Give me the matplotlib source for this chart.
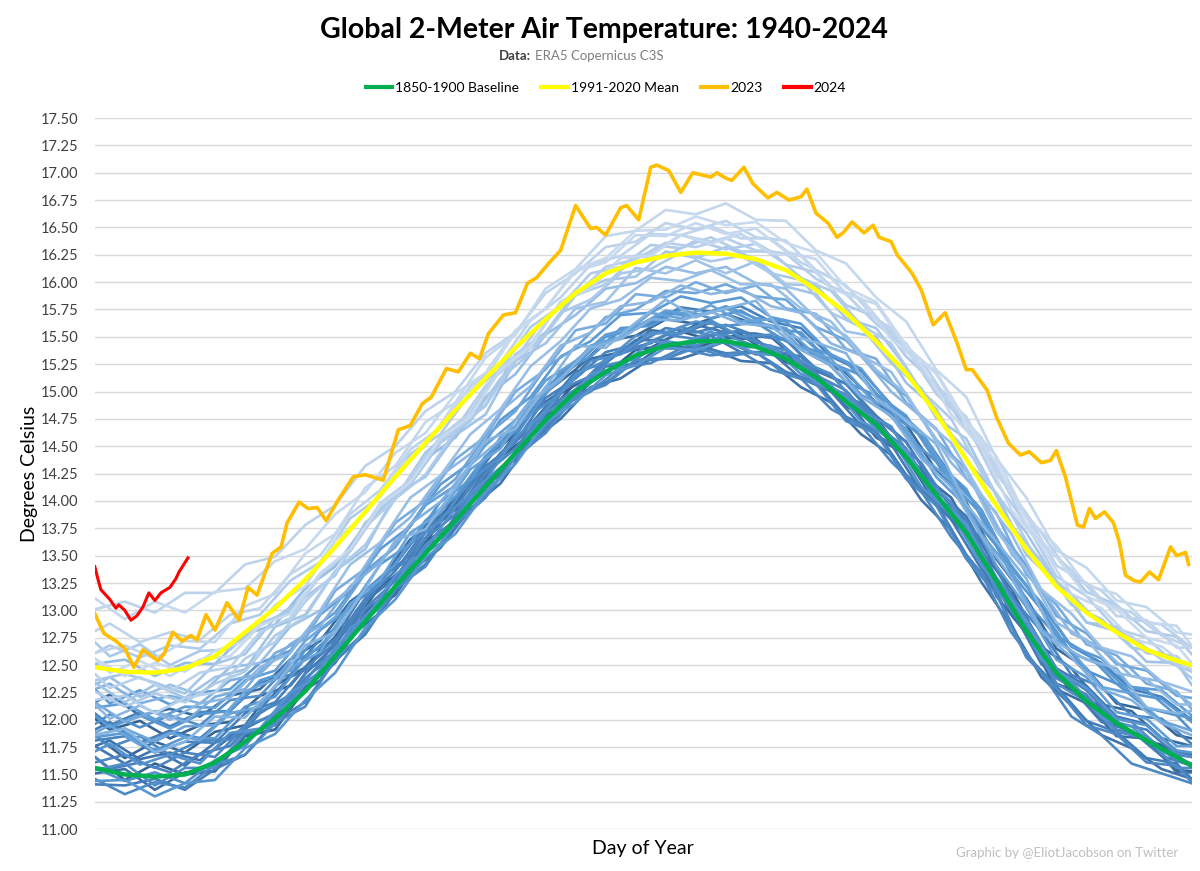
import numpy as np
import matplotlib
matplotlib.use("Agg")
import matplotlib.pyplot as plt
from matplotlib.colors import LinearSegmentedColormap
from matplotlib.lines import Line2D

plt.rcParams['font.family'] = ['Lato', 'DejaVu Sans']

# day-of-year grids (two offset grids, values read every 10 days)
days = [1, 11, 21, 31, 41, 51, 61, 71, 81, 91, 101, 111, 121, 131, 141, 151, 161, 171, 181,
        191, 201, 211, 221, 231, 241, 251, 261, 271, 281, 291, 301, 311, 321, 331, 341, 351,
        361, 366]
days_b = [1, 6, 16, 26, 36, 46, 56, 66, 76, 86, 96, 106, 116, 126, 136, 146, 156, 166, 176,
          186, 196, 206, 216, 226, 236, 246, 256, 266, 276, 286, 296, 306, 316, 326, 336, 346,
          356, 366]

baseline_1850_1900 = [11.56, 11.50, 11.48, 11.50, 11.61, 11.80, 12.01, 12.26, 12.58, 12.90,
                      13.22, 13.52, 13.82, 14.13, 14.44, 14.74, 15.00, 15.18, 15.33, 15.42,
                      15.46, 15.46, 15.41, 15.30, 15.13, 14.91, 14.70, 14.40, 14.06, 13.71,
                      13.27, 12.81, 12.43, 12.17, 11.97, 11.81, 11.66, 11.58]

mean_1991_2020 = [12.48, 12.44, 12.43, 12.47, 12.58, 12.80, 13.02, 13.28, 13.58, 13.90,
                  14.22, 14.53, 14.83, 15.12, 15.40, 15.66, 15.90, 16.08, 16.18, 16.24,
                  16.27, 16.26, 16.21, 16.11, 15.93, 15.72, 15.46, 15.17, 14.80, 14.38,
                  13.96, 13.56, 13.22, 12.98, 12.80, 12.64, 12.54, 12.50]

# historical years on grid "days"
years_a = {
    1940: [11.66, 11.45, 11.60, 11.50, 11.53, 11.85, 11.91, 12.28, 12.53, 12.98, 13.20, 13.62, 13.82,
           14.18, 14.38, 14.78, 15.08, 15.16, 15.38, 15.42, 15.40, 15.49, 15.48, 15.27, 15.15, 14.86,
           14.76, 14.40, 13.98, 13.75, 13.23, 12.83, 12.33, 12.22, 11.95, 11.81, 11.54, 11.53],
    1944: [11.86, 11.65, 11.80, 11.70, 11.89, 11.95, 12.31, 12.48, 12.76, 13.18, 13.42, 13.78, 13.97,
           14.37, 14.62, 14.99, 15.20, 15.46, 15.51, 15.66, 15.62, 15.71, 15.61, 15.57, 15.31, 15.17,
           14.90, 14.70, 14.28, 13.99, 13.47, 13.11, 12.65, 12.47, 12.15, 12.09, 11.86, 11.83],
    1948: [11.51, 11.55, 11.36, 11.52, 11.53, 11.86, 11.91, 12.30, 12.52, 12.95, 13.14, 13.54, 13.77,
           14.19, 14.40, 14.77, 14.94, 15.23, 15.25, 15.44, 15.36, 15.46, 15.34, 15.35, 15.07, 14.94,
           14.58, 14.42, 13.96, 13.75, 13.13, 12.79, 12.28, 12.15, 11.85, 11.83, 11.52, 11.52],
    1952: [11.76, 11.60, 11.73, 11.58, 11.79, 11.92, 12.06, 12.42, 12.68, 13.08, 13.30, 13.66, 13.88,
           14.28, 14.54, 14.86, 15.18, 15.26, 15.47, 15.47, 15.61, 15.54, 15.53, 15.48, 15.19, 15.07,
           14.78, 14.54, 14.11, 13.86, 13.37, 12.93, 12.47, 12.31, 12.03, 11.96, 11.71, 11.68],
    1955: [11.41, 11.40, 11.46, 11.36, 11.55, 11.68, 11.99, 12.16, 12.54, 12.78, 13.19, 13.42, 13.77,
           14.04, 14.42, 14.66, 14.97, 15.08, 15.28, 15.30, 15.42, 15.35, 15.36, 15.18, 15.09, 14.77,
           14.64, 14.24, 13.98, 13.51, 13.17, 12.59, 12.31, 11.99, 11.89, 11.65, 11.60, 11.46],
    1958: [11.81, 11.85, 11.70, 11.80, 11.79, 12.06, 12.16, 12.48, 12.70, 13.10, 13.36, 13.74, 13.94,
           14.31, 14.54, 14.94, 15.12, 15.36, 15.43, 15.58, 15.54, 15.61, 15.51, 15.47, 15.21, 15.07,
           14.76, 14.54, 14.10, 13.83, 13.30, 12.93, 12.45, 12.27, 11.97, 11.91, 11.68, 11.66],
    1962: [11.61, 11.68, 11.56, 11.70, 11.66, 11.94, 12.05, 12.38, 12.60, 13.02, 13.27, 13.66, 13.88,
           14.25, 14.48, 14.84, 15.02, 15.30, 15.39, 15.52, 15.48, 15.56, 15.45, 15.38, 15.15, 15.01,
           14.70, 14.48, 14.04, 13.77, 13.23, 12.87, 12.38, 12.23, 11.91, 11.85, 11.62, 11.60],
    1965: [11.46, 11.32, 11.43, 11.38, 11.59, 11.68, 11.97, 12.12, 12.56, 12.80, 13.20, 13.40, 13.79,
           14.03, 14.40, 14.62, 14.96, 15.06, 15.29, 15.30, 15.40, 15.32, 15.36, 15.16, 15.07, 14.73,
           14.62, 14.20, 13.96, 13.47, 13.15, 12.57, 12.29, 11.95, 11.87, 11.61, 11.58, 11.43],
    1968: [11.54, 11.60, 11.40, 11.56, 11.56, 11.88, 11.95, 12.34, 12.54, 12.96, 13.20, 13.60, 13.82,
           14.19, 14.42, 14.80, 15.00, 15.24, 15.30, 15.46, 15.42, 15.52, 15.41, 15.38, 15.11, 14.97,
           14.66, 14.44, 14.00, 13.73, 13.19, 12.81, 12.33, 12.17, 11.89, 11.83, 11.56, 11.56],
    1972: [11.56, 11.44, 11.52, 11.42, 11.63, 11.76, 12.07, 12.26, 12.66, 12.92, 13.32, 13.56, 13.94,
           14.19, 14.58, 14.82, 15.16, 15.28, 15.51, 15.54, 15.64, 15.60, 15.63, 15.46, 15.37, 15.09,
           14.96, 14.60, 14.36, 13.93, 13.59, 13.07, 12.77, 12.45, 12.33, 12.11, 12.04, 11.90],
    1976: [11.44, 11.45, 11.30, 11.42, 11.45, 11.74, 11.87, 12.18, 12.43, 12.84, 13.10, 13.48, 13.70,
           14.08, 14.34, 14.72, 14.90, 15.15, 15.24, 15.40, 15.38, 15.46, 15.35, 15.32, 15.08, 14.95,
           14.66, 14.46, 14.04, 13.79, 13.27, 12.91, 12.45, 12.29, 12.01, 11.95, 11.72, 11.70],
    1979: [11.84, 11.88, 11.72, 11.84, 11.83, 12.12, 12.21, 12.56, 12.80, 13.18, 13.42, 13.82, 14.04,
           14.41, 14.64, 15.04, 15.24, 15.50, 15.57, 15.72, 15.68, 15.78, 15.67, 15.64, 15.39, 15.27,
           14.98, 14.78, 14.36, 14.11, 13.59, 13.23, 12.77, 12.61, 12.33, 12.27, 12.04, 12.02],
    1983: [12.11, 12.15, 12.00, 12.12, 12.11, 12.36, 12.45, 12.78, 12.98, 13.36, 13.58, 13.96, 14.14,
           14.51, 14.74, 15.10, 15.28, 15.52, 15.59, 15.74, 15.70, 15.76, 15.63, 15.58, 15.33, 15.19,
           14.88, 14.66, 14.22, 13.95, 13.41, 13.03, 12.55, 12.39, 12.07, 12.01, 11.76, 11.76],
    1987: [11.86, 11.92, 11.80, 11.94, 11.95, 12.26, 12.37, 12.72, 12.94, 13.34, 13.58, 13.98, 14.20,
           14.59, 14.82, 15.22, 15.40, 15.68, 15.75, 15.92, 15.90, 15.98, 15.87, 15.84, 15.59, 15.47,
           15.18, 14.96, 14.56, 14.29, 13.77, 13.41, 12.95, 12.79, 12.51, 12.45, 12.22, 12.20],
    1990: [12.16, 11.98, 12.08, 11.98, 12.21, 12.28, 12.61, 12.74, 13.18, 13.38, 13.80, 14.00, 14.38,
           14.59, 15.00, 15.20, 15.56, 15.62, 15.89, 15.86, 16.00, 15.90, 15.97, 15.76, 15.71, 15.39,
           15.30, 14.90, 14.66, 14.21, 13.89, 13.33, 13.05, 12.69, 12.59, 12.33, 12.26, 12.10],
    1994: [11.86, 11.92, 11.70, 11.80, 12.03, 12.02, 12.31, 12.68, 12.80, 13.20, 13.64, 13.74, 14.12,
           14.55, 14.66, 15.04, 15.42, 15.40, 15.63, 15.84, 15.68, 15.76, 15.83, 15.52, 15.45, 15.35,
           14.94, 14.74, 14.52, 13.97, 13.63, 13.29, 12.71, 12.55, 12.47, 12.11, 12.06, 12.08],
    1998: [12.51, 12.55, 12.40, 12.52, 12.51, 12.78, 12.87, 13.20, 13.40, 13.78, 14.02, 14.38, 14.58,
           14.95, 15.16, 15.52, 15.70, 15.94, 15.99, 16.14, 16.08, 16.14, 15.99, 15.94, 15.67, 15.51,
           15.20, 14.98, 14.54, 14.27, 13.73, 13.37, 12.89, 12.73, 12.43, 12.37, 12.14, 12.14],
    2002: [12.34, 12.16, 12.32, 12.20, 12.39, 12.46, 12.85, 12.96, 13.36, 13.56, 14.06, 14.22, 14.60,
           14.79, 15.28, 15.44, 15.76, 15.82, 16.13, 16.08, 16.20, 16.08, 16.19, 15.96, 15.89, 15.55,
           15.50, 15.08, 14.84, 14.37, 14.07, 13.51, 13.25, 12.89, 12.81, 12.53, 12.52, 12.32],
    2005: [12.36, 12.42, 12.34, 12.24, 12.51, 12.60, 12.93, 13.12, 13.32, 13.80, 14.02, 14.44, 14.68,
           14.87, 15.34, 15.54, 15.90, 16.02, 16.05, 16.28, 16.22, 16.32, 16.21, 15.98, 15.97, 15.67,
           15.58, 15.22, 14.76, 14.57, 14.05, 13.71, 13.27, 12.89, 12.85, 12.61, 12.58, 12.44],
    2009: [12.26, 12.12, 12.24, 12.16, 12.33, 12.44, 12.77, 12.94, 13.36, 13.60, 14.02, 14.24, 14.64,
           14.87, 15.28, 15.52, 15.88, 15.98, 16.23, 16.24, 16.38, 16.30, 16.35, 16.16, 16.09, 15.79,
           15.68, 15.32, 15.06, 14.65, 14.31, 13.77, 13.49, 13.17, 13.05, 12.81, 12.76, 12.60],
    2012: [12.18, 12.22, 12.06, 12.20, 12.25, 12.56, 12.71, 13.08, 13.34, 13.76, 14.02, 14.42, 14.66,
           15.05, 15.30, 15.68, 15.88, 16.14, 16.21, 16.36, 16.32, 16.40, 16.29, 16.26, 16.03, 15.89,
           15.62, 15.40, 14.98, 14.71, 14.17, 13.79, 13.31, 13.13, 12.83, 12.75, 12.50, 12.50],
    2016: [13.01, 13.08, 12.98, 13.16, 13.16, 13.42, 13.49, 13.78, 13.96, 14.32, 14.50, 14.82, 15.00,
           15.35, 15.54, 15.90, 16.08, 16.32, 16.37, 16.54, 16.48, 16.56, 16.41, 16.38, 16.11, 15.97,
           15.66, 15.44, 15.02, 14.77, 14.25, 13.89, 13.41, 13.25, 12.95, 12.91, 12.66, 12.66],
    2019: [12.61, 12.68, 12.56, 12.72, 12.71, 13.04, 13.15, 13.52, 13.70, 14.12, 14.32, 14.72, 14.90,
           15.31, 15.52, 15.94, 16.12, 16.42, 16.47, 16.66, 16.62, 16.72, 16.57, 16.56, 16.29, 16.17,
           15.86, 15.64, 15.20, 14.95, 14.39, 14.03, 13.55, 13.39, 13.09, 13.03, 12.80, 12.78],
    2020: [13.11, 12.92, 13.08, 12.98, 13.17, 13.20, 13.45, 13.56, 13.88, 14.08, 14.44, 14.62, 14.98,
           15.17, 15.56, 15.76, 16.10, 16.18, 16.43, 16.42, 16.54, 16.44, 16.49, 16.28, 16.21, 15.89,
           15.80, 15.40, 15.18, 14.73, 14.41, 13.85, 13.59, 13.23, 13.15, 12.89, 12.86, 12.68],
    2022: [12.56, 12.40, 12.52, 12.44, 12.63, 12.72, 13.05, 13.22, 13.64, 13.88, 14.28, 14.50, 14.90,
           15.13, 15.54, 15.76, 16.12, 16.22, 16.47, 16.48, 16.60, 16.52, 16.55, 16.36, 16.27, 15.95,
           15.82, 15.42, 15.16, 14.71, 14.35, 13.79, 13.49, 13.13, 13.01, 12.75, 12.68, 12.52],
}

# historical years on grid "days_b"
years_b = {
    1942: [12.01, 11.91, 11.99, 11.83, 11.95, 11.98, 12.22, 12.31, 12.64, 12.84, 13.22, 13.42, 13.81,
           14.03, 14.40, 14.61, 14.98, 15.14, 15.38, 15.40, 15.55, 15.47, 15.52, 15.34, 15.32, 15.02,
           14.89, 14.52, 14.29, 13.83, 13.54, 12.96, 12.63, 12.25, 12.12, 11.86, 11.77, 11.58],
    1946: [12.16, 12.23, 12.04, 12.10, 12.03, 12.22, 12.28, 12.55, 12.72, 13.08, 13.28, 13.65, 13.85,
           14.21, 14.42, 14.81, 15.00, 15.30, 15.36, 15.56, 15.53, 15.63, 15.50, 15.50, 15.26, 15.16,
           14.83, 14.68, 14.25, 14.03, 13.54, 13.20, 12.67, 12.47, 12.14, 12.08, 11.83, 11.76],
    1950: [11.76, 11.81, 11.64, 11.70, 11.63, 11.84, 11.90, 12.19, 12.36, 12.76, 12.98, 13.35, 13.57,
           13.93, 14.16, 14.54, 14.75, 15.04, 15.12, 15.30, 15.30, 15.39, 15.28, 15.26, 15.04, 14.90,
           14.61, 14.42, 14.01, 13.73, 13.26, 12.86, 12.39, 12.13, 11.86, 11.74, 11.55, 11.46],
    1954: [11.91, 11.98, 11.79, 11.90, 11.83, 12.06, 12.10, 12.39, 12.52, 12.92, 13.10, 13.49, 13.67,
           14.05, 14.24, 14.65, 14.82, 15.14, 15.18, 15.40, 15.39, 15.51, 15.36, 15.36, 15.12, 15.00,
           14.69, 14.52, 14.09, 13.83, 13.38, 13.02, 12.51, 12.29, 11.98, 11.90, 11.67, 11.58],
    1957: [11.66, 11.55, 11.61, 11.52, 11.69, 11.76, 12.06, 12.23, 12.62, 12.86, 13.28, 13.51, 13.91,
           14.15, 14.54, 14.79, 15.16, 15.32, 15.56, 15.62, 15.77, 15.73, 15.78, 15.64, 15.58, 15.32,
           15.19, 14.88, 14.63, 14.23, 13.92, 13.40, 13.05, 12.67, 12.52, 12.28, 12.21, 12.00],
    1960: [12.06, 11.95, 12.07, 11.94, 12.07, 12.08, 12.34, 12.41, 12.74, 12.92, 13.30, 13.47, 13.85,
           14.05, 14.44, 14.65, 15.02, 15.14, 15.38, 15.44, 15.59, 15.51, 15.56, 15.38, 15.32, 15.02,
           14.89, 14.58, 14.35, 13.93, 13.66, 13.12, 12.81, 12.41, 12.30, 12.04, 12.01, 11.78],
    1964: [11.86, 11.75, 11.85, 11.68, 11.81, 11.82, 12.08, 12.19, 12.52, 12.74, 13.10, 13.33, 13.69,
           13.91, 14.28, 14.51, 14.86, 15.00, 15.22, 15.26, 15.39, 15.33, 15.36, 15.20, 15.12, 14.84,
           14.69, 14.36, 14.09, 13.67, 13.34, 12.80, 12.43, 12.03, 11.86, 11.60, 11.51, 11.42],
    1970: [11.96, 12.05, 11.93, 12.04, 11.95, 12.18, 12.22, 12.51, 12.66, 13.04, 13.24, 13.61, 13.81,
           14.19, 14.40, 14.79, 14.98, 15.28, 15.34, 15.54, 15.53, 15.65, 15.50, 15.52, 15.28, 15.16,
           14.83, 14.68, 14.23, 13.99, 13.48, 13.12, 12.57, 12.35, 12.04, 11.98, 11.73, 11.66],
    1974: [11.71, 11.78, 11.59, 11.68, 11.60, 11.88, 11.92, 12.25, 12.40, 12.84, 13.02, 13.45, 13.61,
           14.03, 14.20, 14.63, 14.82, 15.16, 15.22, 15.46, 15.43, 15.55, 15.40, 15.42, 15.16, 15.06,
           14.73, 14.58, 14.13, 13.89, 13.42, 13.06, 12.55, 12.33, 12.02, 11.94, 11.71, 11.60],
    1978: [12.04, 11.93, 12.04, 11.92, 12.05, 12.08, 12.36, 12.45, 12.82, 13.02, 13.42, 13.61, 13.99,
           14.19, 14.58, 14.79, 15.18, 15.32, 15.58, 15.60, 15.75, 15.67, 15.74, 15.58, 15.54, 15.26,
           15.15, 14.82, 14.59, 14.17, 13.88, 13.34, 13.01, 12.61, 12.50, 12.24, 12.19, 11.98],
    1981: [12.28, 12.15, 12.27, 12.14, 12.25, 12.28, 12.52, 12.63, 12.96, 13.18, 13.56, 13.77, 14.15,
           14.35, 14.74, 14.95, 15.32, 15.46, 15.70, 15.72, 15.87, 15.81, 15.86, 15.68, 15.62, 15.34,
           15.21, 14.86, 14.63, 14.21, 13.92, 13.38, 13.07, 12.67, 12.56, 12.30, 12.27, 12.04],
    1985: [11.88, 11.95, 11.77, 11.88, 11.81, 12.06, 12.12, 12.47, 12.62, 13.06, 13.28, 13.71, 13.89,
           14.29, 14.48, 14.89, 15.10, 15.42, 15.50, 15.72, 15.67, 15.79, 15.64, 15.66, 15.40, 15.30,
           14.97, 14.84, 14.41, 14.19, 13.70, 13.36, 12.83, 12.63, 12.30, 12.24, 11.99, 11.90],
    1992: [12.28, 12.33, 12.15, 12.22, 12.15, 12.36, 12.42, 12.69, 12.86, 13.22, 13.44, 13.79, 13.99,
           14.33, 14.56, 14.91, 15.12, 15.40, 15.48, 15.66, 15.65, 15.73, 15.62, 15.60, 15.38, 15.24,
           14.95, 14.78, 14.39, 14.13, 13.68, 13.30, 12.81, 12.57, 12.28, 12.18, 11.97, 11.86],
    1996: [12.14, 12.01, 12.13, 12.00, 12.15, 12.20, 12.48, 12.61, 12.98, 13.20, 13.62, 13.85, 14.23,
           14.43, 14.82, 15.05, 15.42, 15.54, 15.78, 15.82, 15.97, 15.89, 15.94, 15.78, 15.72, 15.44,
           15.33, 15.00, 14.77, 14.35, 14.06, 13.52, 13.19, 12.79, 12.66, 12.40, 12.35, 12.14],
    2000: [12.32, 12.39, 12.21, 12.32, 12.23, 12.48, 12.52, 12.85, 13.00, 13.42, 13.62, 14.03, 14.23,
           14.61, 14.84, 15.23, 15.46, 15.76, 15.84, 16.04, 16.01, 16.11, 15.98, 15.98, 15.76, 15.64,
           15.33, 15.18, 14.77, 14.53, 14.06, 13.70, 13.19, 12.97, 12.66, 12.58, 12.35, 12.26],
    2007: [12.71, 12.58, 12.69, 12.50, 12.63, 12.64, 12.88, 12.99, 13.32, 13.54, 13.94, 14.15, 14.53,
           14.73, 15.12, 15.35, 15.72, 15.84, 16.08, 16.12, 16.27, 16.19, 16.24, 16.08, 16.02, 15.72,
           15.59, 15.26, 15.03, 14.61, 14.32, 13.78, 13.45, 13.05, 12.92, 12.66, 12.61, 12.38],
    2010: [12.61, 12.68, 12.57, 12.68, 12.65, 12.88, 12.96, 13.27, 13.44, 13.84, 14.04, 14.43, 14.61,
           14.99, 15.20, 15.59, 15.78, 16.08, 16.14, 16.34, 16.31, 16.41, 16.28, 16.28, 16.04, 15.92,
           15.61, 15.44, 15.01, 14.75, 14.26, 13.88, 13.39, 13.15, 12.86, 12.76, 12.55, 12.44],
    2014: [12.42, 12.29, 12.39, 12.26, 12.43, 12.48, 12.80, 12.93, 13.32, 13.56, 13.98, 14.19, 14.59,
           14.81, 15.22, 15.43, 15.82, 15.96, 16.22, 16.26, 16.43, 16.37, 16.44, 16.28, 16.24, 15.96,
           15.85, 15.52, 15.29, 14.87, 14.58, 14.04, 13.71, 13.31, 13.18, 12.92, 12.87, 12.66],
    2017: [12.81, 12.88, 12.71, 12.80, 12.73, 12.96, 13.02, 13.33, 13.50, 13.88, 14.10, 14.47, 14.67,
           15.05, 15.26, 15.65, 15.86, 16.16, 16.24, 16.44, 16.43, 16.51, 16.40, 16.40, 16.18, 16.04,
           15.75, 15.58, 15.19, 14.93, 14.48, 14.10, 13.61, 13.37, 13.08, 12.98, 12.77, 12.66],
    2021: [12.56, 12.43, 12.54, 12.40, 12.55, 12.58, 12.86, 12.97, 13.34, 13.56, 13.96, 14.17, 14.57,
           14.77, 15.20, 15.41, 15.82, 15.94, 16.22, 16.24, 16.43, 16.35, 16.44, 16.26, 16.24, 15.94,
           15.85, 15.48, 15.25, 14.79, 14.50, 13.92, 13.59, 13.15, 13.02, 12.74, 12.67, 12.46],
}

# 2023 (day, temperature)
obs_2023 = [(1, 12.97), (4, 12.79), (8, 12.72), (11, 12.65), (14, 12.48), (17, 12.64), (22, 12.54),
            (24, 12.60), (27, 12.80), (30, 12.72), (33, 12.77), (35, 12.73), (38, 12.96),
            (41, 12.82), (45, 13.07), (49, 12.91), (52, 13.21), (55, 13.14), (60, 13.52),
            (63, 13.58), (65, 13.80), (69, 13.99), (72, 13.93), (75, 13.94), (78, 13.82),
            (82, 14.01), (87, 14.22), (91, 14.24), (97, 14.19), (102, 14.65), (106, 14.69),
            (110, 14.89), (113, 14.95), (118, 15.21), (122, 15.18), (126, 15.35), (129, 15.30),
            (132, 15.53), (137, 15.70), (141, 15.72), (145, 15.99), (148, 16.04), (152, 16.17),
            (156, 16.29), (161, 16.70), (166, 16.49), (168, 16.50), (171, 16.43), (176, 16.68),
            (178, 16.70), (182, 16.57), (186, 17.05), (188, 17.07), (192, 17.02), (196, 16.82),
            (200, 17.00), (206, 16.96), (208, 17.00), (211, 16.95), (213, 16.93), (217, 17.05),
            (220, 16.90), (225, 16.77), (228, 16.82), (232, 16.75), (236, 16.78), (238, 16.85),
            (241, 16.63), (245, 16.54), (248, 16.41), (250, 16.45), (253, 16.55), (257, 16.45),
            (260, 16.52), (262, 16.41), (266, 16.37), (268, 16.25), (273, 16.08), (276, 15.93),
            (280, 15.61), (284, 15.72), (288, 15.44), (291, 15.20), (293, 15.20), (298, 15.01),
            (301, 14.77), (305, 14.53), (309, 14.42), (312, 14.45), (316, 14.35), (319, 14.37),
            (321, 14.46), (324, 14.22), (328, 13.78), (330, 13.76), (332, 13.93), (334, 13.84),
            (337, 13.90), (340, 13.80), (342, 13.62), (344, 13.32), (347, 13.27), (349, 13.26),
            (352, 13.35), (355, 13.28), (359, 13.58), (361, 13.50), (364, 13.53), (365, 13.42)]

# 2024 so far
obs_2024 = [(1, 13.40), (2, 13.29), (3, 13.19), (5, 13.13), (6, 13.10), (8, 13.02), (9, 13.05),
            (11, 13.00), (13, 12.91), (15, 12.95), (17, 13.03), (19, 13.16), (21, 13.09),
            (23, 13.16), (26, 13.21), (28, 13.29), (29, 13.35), (32, 13.48)]

yticks = np.arange(11.0, 17.51, 0.25)

fig = plt.figure(figsize=(12, 8.71), dpi=100)
ax = fig.add_axes([0.079, 0.048, 0.914, 0.8165])

# blue family: dark for early years, light for recent ones
cmap = LinearSegmentedColormap.from_list(
    'yrs', [(0.0, '#31608e'), (0.2, '#4680bd'), (0.5, '#5b9bd5'), (0.75, '#9fc2e7'), (1.0, '#c9daee')])
all_years = [(yr, days, v) for yr, v in years_a.items()] + [(yr, days_b, v) for yr, v in years_b.items()]
all_years.sort(key=lambda t: t[0])
for yr, dd, vals in all_years:
    c = cmap((yr - 1940) / (2022 - 1940))
    ax.plot(dd, vals, color=c, lw=1.9, solid_joinstyle='round', zorder=2)

ax.plot(days, baseline_1850_1900, color='#00b050', lw=3.2, zorder=4)
ax.plot(days, mean_1991_2020, color='#ffff00', lw=3.2, zorder=4)
d23, t23 = zip(*obs_2023)
ax.plot(d23, t23, color='#ffbf00', lw=2.6, zorder=5)
d24, t24 = zip(*obs_2024)
ax.plot(d24, t24, color='#ff0000', lw=2.2, zorder=6)

ax.set_xlim(1, 366)
ax.set_ylim(11.0, 17.5)
ax.set_yticks(yticks)
ax.set_yticklabels([f'{v:.2f}' for v in yticks], fontsize=10.5, color='#404040')
ax.set_xticks([])
ax.tick_params(axis='y', length=0, pad=12)
ax.grid(axis='y', color='#d9d9d9', lw=1)
ax.set_axisbelow(True)
for s in ax.spines.values():
    s.set_visible(False)

ax.set_ylabel('Degrees Celsius', fontsize=14, labelpad=2)
ax.set_xlabel('Day of Year', fontsize=14, labelpad=8)

fig.text(0.503, 0.966, 'Global 2-Meter Air Temperature: 1940-2024', ha='center', va='center',
         fontsize=20.5, fontweight='bold')
fig.text(0.4425, 0.936, 'Data:', ha='right', va='center', fontsize=9.5, fontweight='bold',
         color='#404040')
fig.text(0.446, 0.936, 'ERA5 Copernicus C3S', ha='left', va='center', fontsize=9.5, color='#7f7f7f')
fig.text(0.982, 0.021, 'Graphic by @EliotJacobson on Twitter', ha='right', va='center',
         fontsize=9.5, color='#bfbfbf')

handles = [Line2D([], [], color='#00b050', lw=3),
           Line2D([], [], color='#ffff00', lw=3),
           Line2D([], [], color='#ffbf00', lw=3),
           Line2D([], [], color='#ff0000', lw=3)]
fig.legend(handles, ['1850-1900 Baseline', '1991-2020 Mean', '2023', '2024'], ncol=4,
           loc='center', bbox_to_anchor=(0.505, 0.899), frameon=False, fontsize=10,
           handlelength=1.9, handletextpad=0.2, columnspacing=1.6)

fig.savefig('out.png', dpi=100)
